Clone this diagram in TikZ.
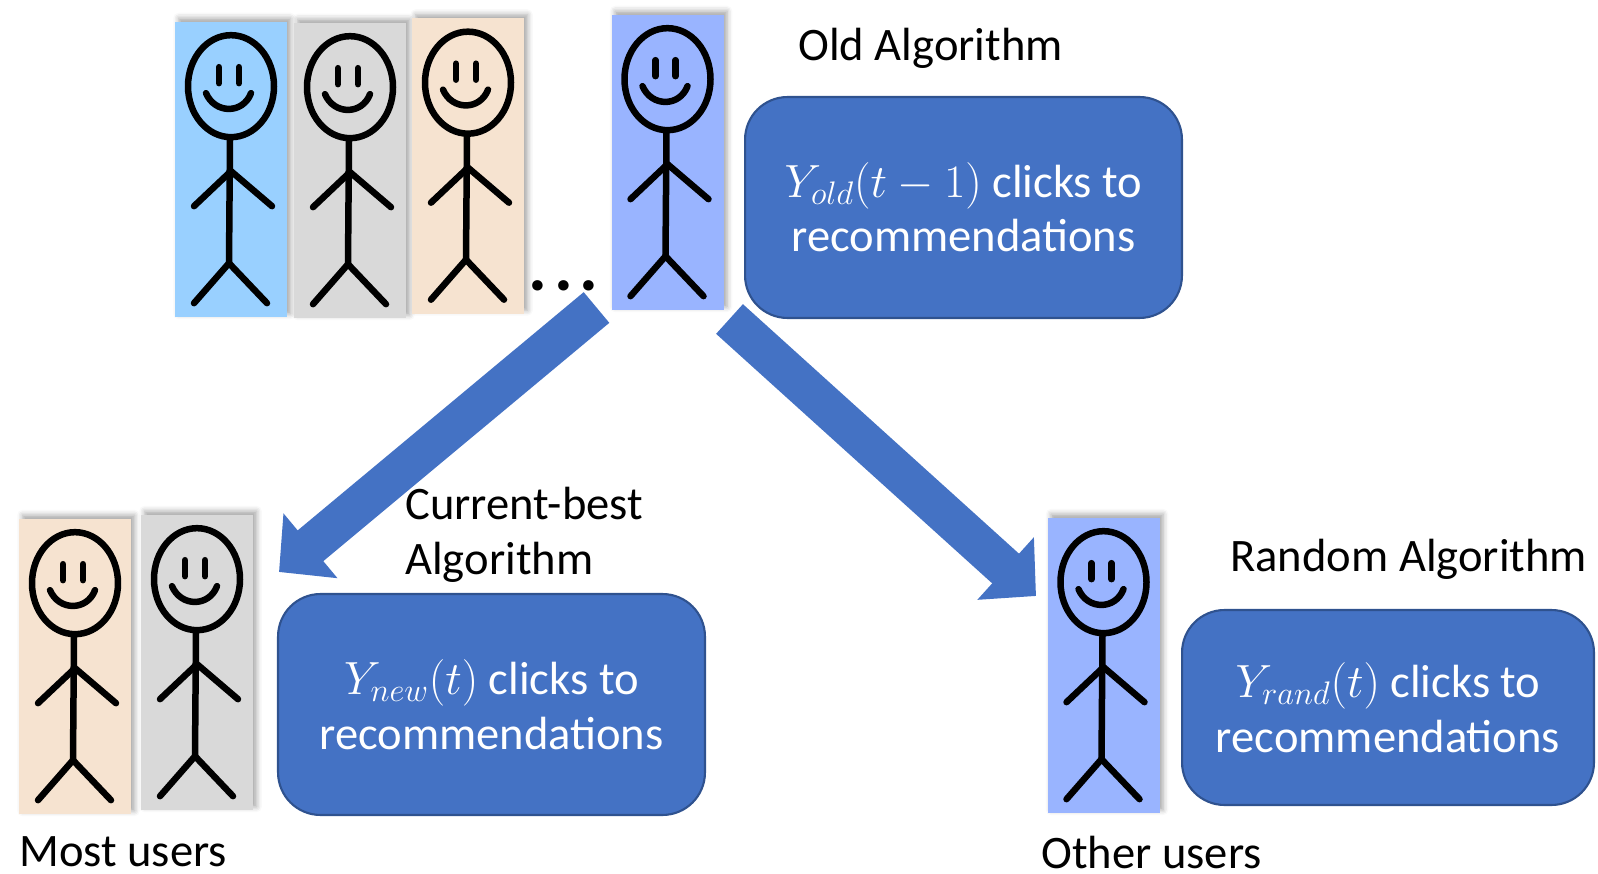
\documentclass[tikz,border=0pt]{standalone}
\usepackage{fix-cm}
\usepackage{fontspec}
\setmainfont{Carlito}
\usepackage{tikz}
\usetikzlibrary{positioning, arrows.meta, shadows.blur}

\definecolor{skyblue}{RGB}{153,208,255}
\definecolor{greyfig}{RGB}{217,217,217}
\definecolor{peach}{RGB}{246,227,208}
\definecolor{periwinkle}{RGB}{153,180,255}
\definecolor{algoblue}{RGB}{68,114,196}
\definecolor{algoedge}{RGB}{47,82,143}

\begin{document}
\begin{tikzpicture}[
    x=0.02cm, y=-0.02cm,
    userbox/.style={rectangle, minimum width=2.24cm, minimum height=5.92cm, inner sep=0pt,
        blur shadow={shadow xshift=2pt, shadow yshift=2pt, shadow blur radius=3pt, shadow opacity=35}},
    figline/.style={draw=black, line width=0.13cm, line cap=round, line join=round},
    algobox/.style={rectangle, rounded corners=0.85cm, fill=algoblue, draw=algoedge, line width=1.2pt,
        text=white, align=center, font=\fontsize{26.5}{31}\selectfont},
    label/.style={inner sep=0pt, font=\fontsize{26.5}{31}\selectfont},
    flow/.style={draw=algoblue, line width=0.8cm, -{Triangle[width=1.64cm, length=0.82cm]}},
    stickman/.pic={
        \draw [figline] (0,65) ellipse [x radius=43, y radius=51];
        \draw [figline] (-12,46) -- (-12,62) (8,46) -- (8,62);
        \draw [figline] (-25,72) .. controls (-16,93) and (12,93) .. (20,72);
        \draw [figline] (-1,117) -- (-2,242);
        \draw [figline] (-37,185) -- (0,150) -- (41,185);
        \draw [figline] (-37,282) -- (-2,242) -- (36,282);
    }
]
    \useasboundingbox (0,0) rectangle (1598,874);

    % Top row of users
    \node (u1) at (231,169.5) [userbox, fill=skyblue] {};
    \node (u2) at (350,170.5) [userbox, fill=greyfig] {};
    \node (u3) at (468,166) [userbox, fill=peach] {};
    \node (u4) at (667.5,162.5) [userbox, fill=periwinkle] {};
    \foreach \u in {u1,u2,u3,u4}
        \pic at (\u.north) {stickman};
    \node (dots) at (528,291) [label, anchor=base west, font=\fontsize{40}{40}\selectfont\bfseries] {.\kern4pt.\kern4pt.};

    % Old algorithm
    \node (oldlbl) at (798,61) [label, anchor=base west] {Old Algorithm};
    \node (old) at (963.5,207.5) [algobox, minimum width=8.74cm, minimum height=4.42cm]
        {$Y_{old}(t-1)$ clicks to\\recommendations};

    % Split arrows
    \coordinate (ltail) at (596.5,307.5);
    \coordinate (ltip) at (279,572);
    \coordinate (rtail) at (729.5,319);
    \coordinate (rtip) at (1036,596);
    \draw [flow] (ltail) -- (ltip);
    \draw [flow] (rtail) -- (rtip);

    % Most users with the current-best algorithm
    \node (l1) at (75,666.5) [userbox, fill=peach] {};
    \node (l2) at (197,662.5) [userbox, fill=greyfig] {};
    \foreach \u in {l1,l2}
        \pic at (\u.north) {stickman};
    \node (most) at (19,866) [label, anchor=base west] {Most users};
    \node (bestlbl) at (405,574) [label, anchor=base west, align=left] {Current-best\\Algorithm};
    \node (best) at (491.5,704.5) [algobox, minimum width=8.54cm, minimum height=4.42cm]
        {$Y_{new}(t)$ clicks to\\recommendations};

    % Other users with the random algorithm
    \node (r1) at (1103.5,665.5) [userbox, fill=periwinkle] {};
    \pic at (r1.north) {stickman};
    \node (other) at (1041,868) [label, anchor=base west] {Other users};
    \node (randlbl) at (1230,571) [label, anchor=base west] {Random Algorithm};
    \node (rand) at (1388,707.5) [algobox, minimum width=8.24cm, minimum height=3.9cm]
        {$Y_{rand}(t)$ clicks to\\recommendations};

\end{tikzpicture}
\end{document}
